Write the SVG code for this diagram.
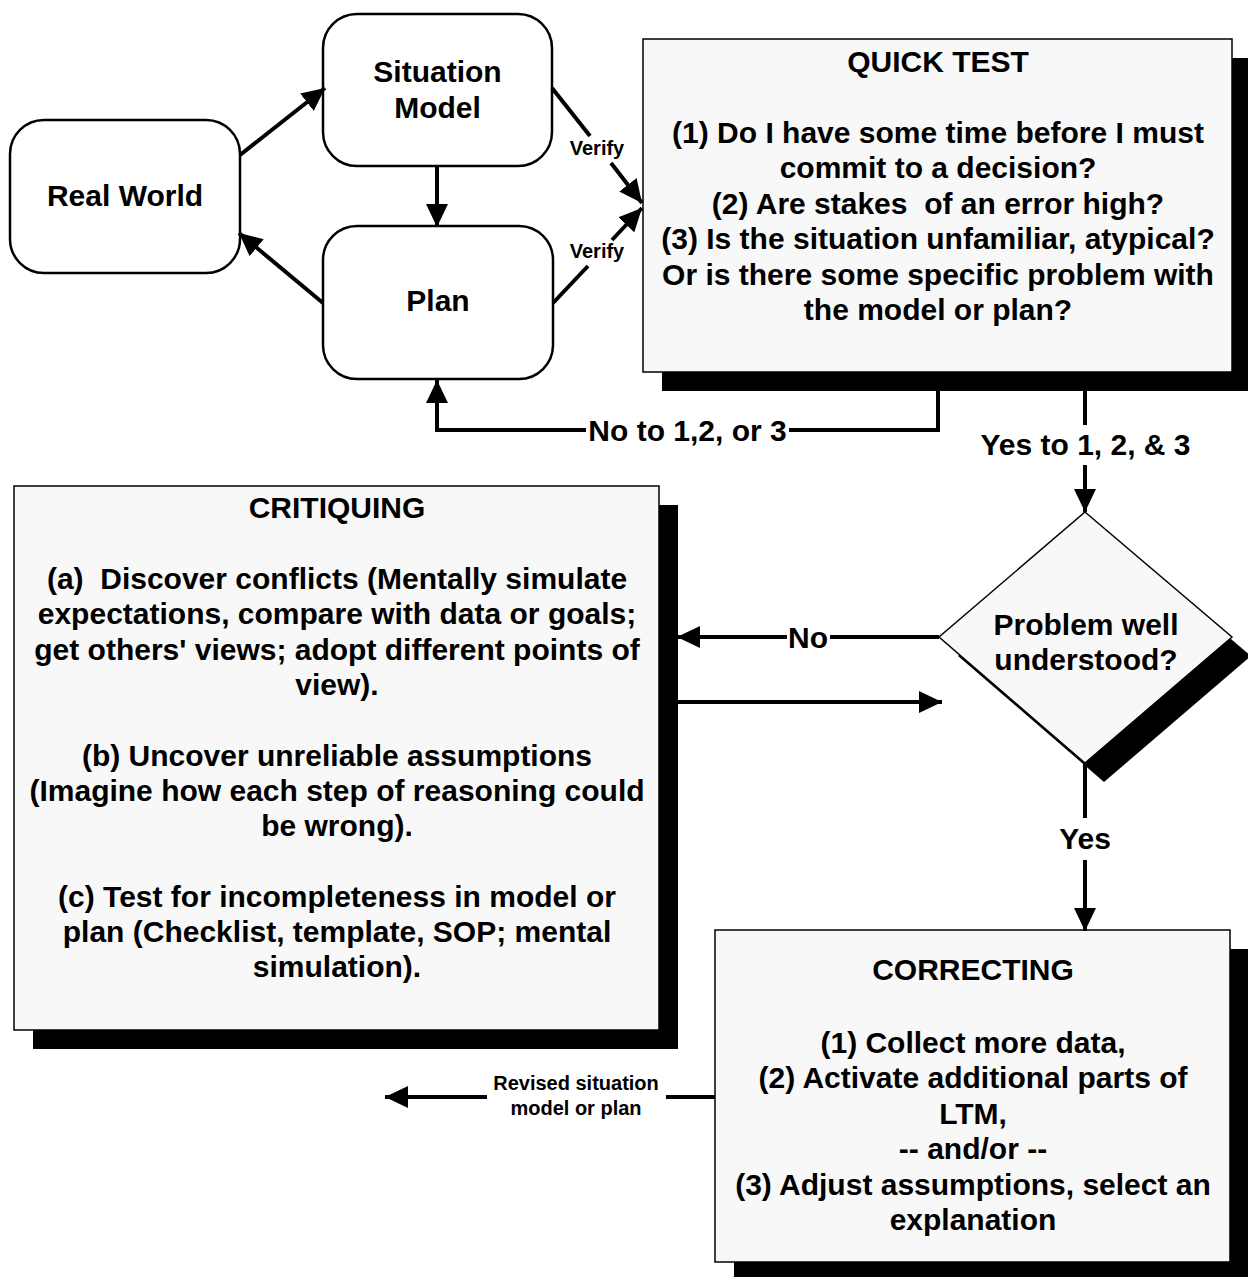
<svg xmlns="http://www.w3.org/2000/svg" width="1248" height="1277" viewBox="0 0 1248 1277">
<defs>
<style>
.t{font-family:"Liberation Sans",Arial,Helvetica,sans-serif;font-weight:bold;font-size:30px;text-anchor:middle;fill:#000}
.s{font-size:20px}
.rn{fill:#fff;stroke:#000;stroke-width:2.5}
.bx{fill:#f8f8f8;stroke:#000;stroke-width:1.5}
.sh{fill:#000}
.c{fill:none;stroke:#000;stroke-width:4}
</style>
<marker id="ah" markerUnits="userSpaceOnUse" markerWidth="24" markerHeight="22" refX="23" refY="11" orient="auto" viewBox="0 0 24 22">
<path d="M0,0 L23,11 L0,22 Z" fill="#000"/>
</marker>
</defs>
<rect width="1248" height="1277" fill="#fff"/>

<g id="real-world">
<rect class="rn" x="10" y="120" width="230" height="153" rx="34"/>
<text class="t" x="125" y="206">Real World</text>
</g>

<g id="situation-model">
<rect class="rn" x="323" y="14" width="229" height="152" rx="34"/>
<text class="t" x="437.5" y="82">Situation</text>
<text class="t" x="437.5" y="118">Model</text>
</g>

<g id="plan">
<rect class="rn" x="323" y="226" width="230" height="153" rx="34"/>
<text class="t" x="438" y="311">Plan</text>
</g>

<g id="quick-test">
<rect class="sh" x="662" y="58" width="589" height="333"/>
<rect class="bx" x="643" y="39" width="589" height="333"/>
<text class="t" x="938" y="72">QUICK TEST</text>
<text class="t" x="938" y="143">(1) Do I have some time before I must</text>
<text class="t" x="938" y="178.4">commit to a decision?</text>
<text class="t" x="938" y="213.8" xml:space="preserve">(2) Are stakes  of an error high?</text>
<text class="t" x="938" y="249.2">(3) Is the situation unfamiliar, atypical?</text>
<text class="t" x="938" y="284.6">Or is there some specific problem with</text>
<text class="t" x="938" y="320">the model or plan?</text>
</g>

<g id="decision">
<polygon class="sh" points="1104,531 1251,656 1104,782 958,656"/>
<polygon class="bx" points="1085,512 1232,637 1085,763 939,637"/>
<text class="t" x="1086" y="635">Problem well</text>
<text class="t" x="1086" y="670">understood?</text>
</g>

<g id="critiquing">
<rect class="sh" x="33" y="505" width="645" height="544"/>
<rect class="bx" x="14" y="486" width="645" height="544"/>
<text class="t" x="337" y="518">CRITIQUING</text>
<text class="t" x="337" y="589" xml:space="preserve">(a)  Discover conflicts (Mentally simulate</text>
<text class="t" x="337" y="624.3">expectations, compare with data or goals;</text>
<text class="t" x="337" y="659.6">get others' views; adopt different points of</text>
<text class="t" x="337" y="694.9">view).</text>
<text class="t" x="337" y="765.5">(b) Uncover unreliable assumptions</text>
<text class="t" x="337" y="800.8">(Imagine how each step of reasoning could</text>
<text class="t" x="337" y="836.1">be wrong).</text>
<text class="t" x="337" y="906.7">(c) Test for incompleteness in model or</text>
<text class="t" x="337" y="942">plan (Checklist, template, SOP; mental</text>
<text class="t" x="337" y="977.3">simulation).</text>
</g>

<g id="correcting">
<rect class="sh" x="734" y="949" width="515" height="332"/>
<rect class="bx" x="715" y="930" width="515" height="332"/>
<text class="t" x="973" y="980">CORRECTING</text>
<text class="t" x="973" y="1053">(1) Collect more data,</text>
<text class="t" x="973" y="1088.4">(2) Activate additional parts of</text>
<text class="t" x="973" y="1123.8">LTM,</text>
<text class="t" x="973" y="1159.2">-- and/or --</text>
<text class="t" x="973" y="1194.6">(3) Adjust assumptions, select an</text>
<text class="t" x="973" y="1230">explanation</text>
</g>

<g id="connectors">
<path class="c" d="M240,155 L325,88" marker-end="url(#ah)"/>
<path class="c" d="M437,166 L437,227" marker-end="url(#ah)"/>
<path class="c" d="M323,303 L239,233" marker-end="url(#ah)"/>
<path class="c" d="M552,88 L590,136"/>
<path class="c" d="M611,163 L642,203" marker-end="url(#ah)"/>
<text class="t s" x="597" y="155">Verify</text>
<path class="c" d="M553,303 L588,266"/>
<path class="c" d="M612,240 L642,208" marker-end="url(#ah)"/>
<text class="t s" x="597" y="258">Verify</text>
<path class="c" d="M938,372 V430 H789"/>
<path class="c" d="M586,430 H437 V380" marker-end="url(#ah)"/>
<text class="t" x="687.5" y="441">No to 1,2, or 3</text>
<path class="c" d="M1085,372 V425"/>
<path class="c" d="M1085,465 V512" marker-end="url(#ah)"/>
<text class="t" x="1085.5" y="455">Yes to 1, 2, &amp; 3</text>
<path class="c" d="M939,637 H830"/>
<path class="c" d="M787,637 H677" marker-end="url(#ah)"/>
<text class="t" x="808" y="648">No</text>
<path class="c" d="M678,702 H942" marker-end="url(#ah)"/>
<path class="c" d="M1085,763 V818"/>
<path class="c" d="M1085,860 V931" marker-end="url(#ah)"/>
<text class="t" x="1085" y="849">Yes</text>
<path class="c" d="M715,1097 H666"/>
<path class="c" d="M487,1097 H385" marker-end="url(#ah)"/>
<text class="t s" x="576" y="1090">Revised situation</text>
<text class="t s" x="576" y="1115">model or plan</text>
</g>
</svg>
